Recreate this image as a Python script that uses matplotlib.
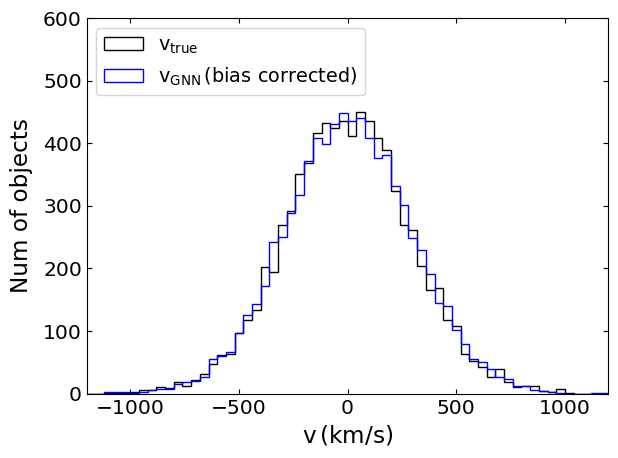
import numpy as np
import matplotlib
matplotlib.use('Agg')
import matplotlib.pyplot as plt

# 40 km/s bins from -1200 to 1200
bin_edges = np.arange(-1200, 1201, 40)

# counts per bin
n_true = [0, 0, 1, 1, 1, 2, 6, 6, 10, 9,
          18, 12, 22, 31, 47, 62, 63, 97, 118, 133,
          202, 194, 269, 292, 351, 368, 416, 432, 424, 435,
          412, 450, 436, 408, 389, 324, 269, 262, 204, 165,
          168, 118, 108, 64, 52, 43, 27, 39, 19, 10,
          13, 13, 5, 3, 7, 1, 0, 0, 0, 0]
n_gnn = [0, 0, 2, 2, 2, 1, 3, 6, 8, 8,
         15, 18, 21, 26, 55, 60, 67, 97, 126, 144,
         172, 243, 251, 289, 318, 372, 408, 399, 430, 449,
         436, 440, 408, 376, 382, 331, 301, 248, 229, 191,
         145, 140, 102, 79, 56, 50, 40, 27, 23, 12,
         13, 6, 5, 2, 1, 0, 0, 0, 1, 1]

centers = 0.5 * (bin_edges[:-1] + bin_edges[1:])

fs_tick = 14.6
fs_label = 16.7
fs_leg = 13.9

fig = plt.figure(figsize=(6.18, 4.58), dpi=100)
ax = fig.add_axes([0.1405, 0.1405, 0.844, 0.82])

ax.hist(centers, bins=bin_edges, weights=n_true, histtype='step',
        color='k', lw=1.0, label=r'$\rm v_{true}$')
ax.hist(centers, bins=bin_edges, weights=n_gnn, histtype='step',
        color='b', lw=1.0, label=r'$\rm v_{GNN}\,(bias\ corrected)$')

ax.set_xlim(-1200, 1200)
ax.set_ylim(0, 600)
ax.set_xticks([-1000, -500, 0, 500, 1000])
ax.set_yticks(np.arange(0, 601, 100))
ax.tick_params(direction='in', top=True, right=True, labelsize=fs_tick)
ax.set_xlabel(r'$\rm v\,(km/s)$', fontsize=fs_label)
ax.set_ylabel('Num of objects', fontsize=fs_label, labelpad=7)
ax.legend(loc='upper left', fontsize=fs_leg)

plt.savefig('out.png', dpi=100)
